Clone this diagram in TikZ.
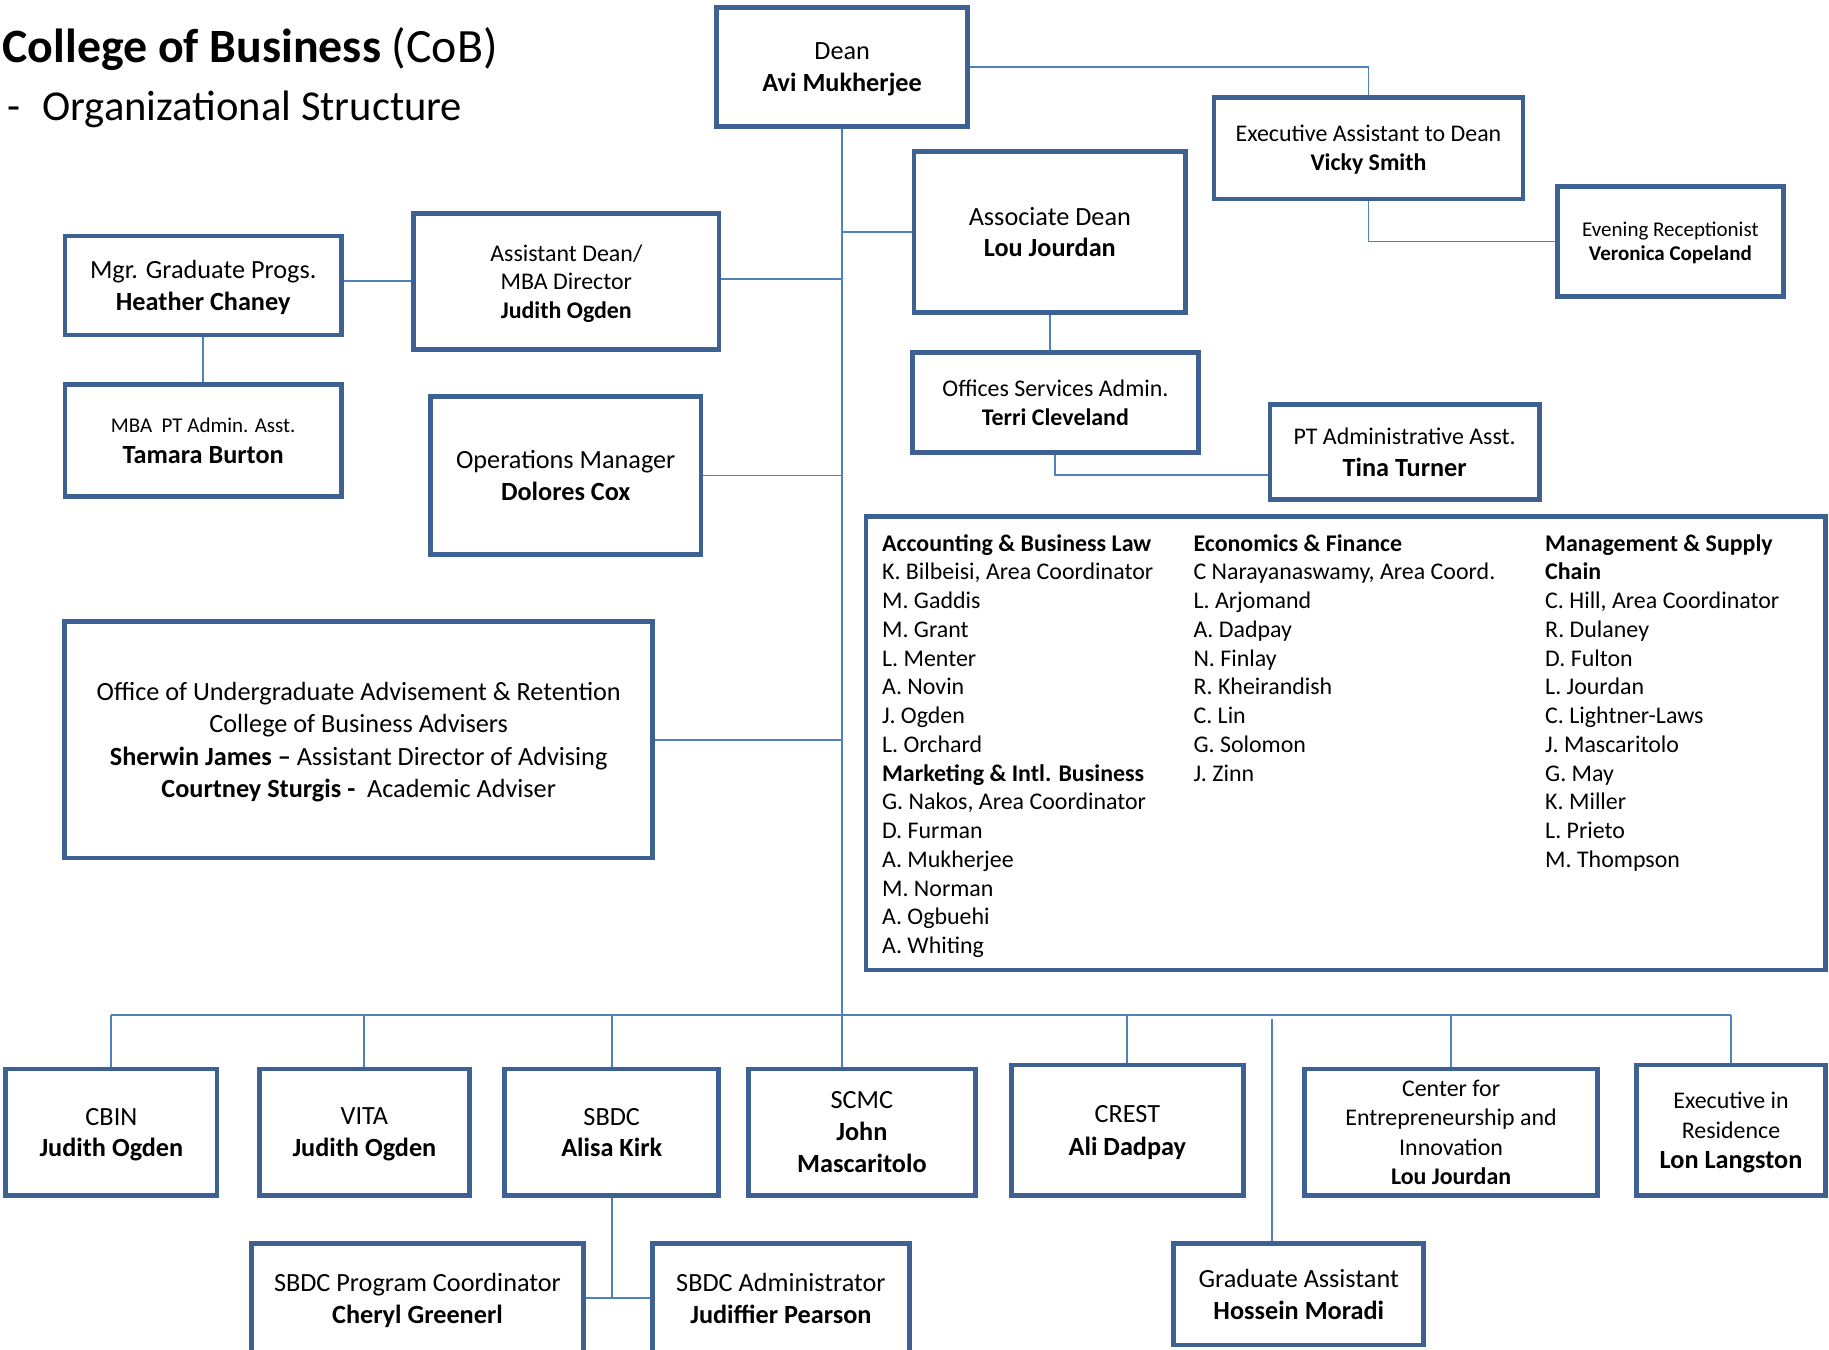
\documentclass[tikz,border=0pt]{standalone}
\usepackage{fontspec}
\setmainfont{Carlito}
\usetikzlibrary{backgrounds}
\definecolor{bordercol}{RGB}{60,97,146}
\definecolor{linkcol}{RGB}{79,129,189}
\newcommand\myfs[2]{\fontsize{#1}{#2}\selectfont}
\begin{document}
\begin{tikzpicture}[x=1pt,y=-1pt,
  box/.style={draw=bordercol, line width=4pt, fill=white, align=center, inner sep=0pt, text depth=0pt, font=\myfs{22.5}{27.5}},
  link/.style={draw=linkcol, line width=1.6pt},
  coltext/.style={anchor=base west, inner sep=0pt, font=\myfs{20.5}{24.64}}]
\useasboundingbox (0,0) rectangle (1568,1157);

% title
\node[anchor=base west, inner sep=0pt, font=\myfs{41}{48}] (title) at (2,54) {\textbf{College of Business} (CoB)};
\node[anchor=base west, inner sep=0pt, font=\myfs{36.5}{43}] (subtitle) at (6,103) {-\hspace{19pt}Organizational Structure};

% top part
\node[box, font=\myfs{22.5}{28}, minimum width=215pt, minimum height=102pt] (dean) at (722,57.5) {Dean\\\textbf{Avi Mukherjee}};
\node[box, font=\myfs{20.5}{25}, minimum width=265pt, minimum height=87pt] (exec) at (1173.2,127) {Executive Assistant to Dean\\\textbf{Vicky Smith}};
\node[box, font=\myfs{18}{21}, minimum width=194pt, minimum height=94pt] (even) at (1432,207) {Evening Receptionist\\\textbf{Veronica Copeland}};
\node[box, font=\myfs{22.5}{27}, minimum width=233pt, minimum height=138pt] (assoc) at (900,199) {Associate Dean\\\textbf{Lou Jourdan}};
\node[box, font=\myfs{20.5}{25}, minimum width=245pt, minimum height=86pt] (offices) at (904.8,345.2) {Offices Services Admin.\\\textbf{Terri Cleveland}};
\node[box, font=\myfs{22.5}{27}, minimum width=231pt, minimum height=81pt] (pt) at (1204.2,387.5) {{\myfs{20.5}{25}PT Administrative Asst.}\\\textbf{Tina Turner}};
\node[box, font=\myfs{22.5}{28}, minimum width=237pt, minimum height=85pt] (mgr) at (174.2,244.8) {Mgr. Graduate Progs.\\\textbf{Heather Chaney}};
\node[box, font=\myfs{20.5}{24.5}, minimum width=262pt, minimum height=116.5pt] (asstdean) at (485.5,241.2) {Assistant Dean/\\MBA Director\\\textbf{Judith Ogden}};
\node[box, font=\myfs{22.5}{26}, minimum width=237pt, minimum height=96pt] (mbapt) at (174.2,377.9) {{\myfs{18}{22}MBA\ \ PT Admin. Asst.}\\\textbf{Tamara Burton}};
\node[box, font=\myfs{22.5}{27}, minimum width=232pt, minimum height=135pt] (ops) at (485,407.6) {Operations Manager\\\textbf{Dolores Cox}};
\node[box, font=\myfs{22.5}{27.7}, minimum width=504pt, minimum height=202.6pt] (office) at (307.5,634.3) {Office of Undergraduate Advisement \& Retention\\College of Business Advisers\\\textbf{Sherwin James –} Assistant Director of Advising\\\textbf{Courtney Sturgis -}\ \ Academic Adviser};

% departments
\node[box, minimum width=822.5pt, minimum height=388.6pt] (dept) at (1153.8,637.3) {};
\node[coltext] (colA) at (756,472.5) {\begin{tabular}[t]{@{}l@{}}
\textbf{Accounting \& Business Law}\\
K. Bilbeisi, Area Coordinator\\
M. Gaddis\\
M. Grant\\
L. Menter\\
A. Novin\\
J. Ogden\\
L. Orchard\\
\textbf{Marketing \& Intl. Business}\\
G. Nakos, Area Coordinator\\
D. Furman\\
A. Mukherjee\\
M. Norman\\
A. Ogbuehi\\
A. Whiting
\end{tabular}};
\node[coltext] (colB) at (1023,472.5) {\begin{tabular}[t]{@{}l@{}}
\textbf{Economics \& Finance}\\
C Narayanaswamy, Area Coord.\\
L. Arjomand\\
A. Dadpay\\
N. Finlay\\
R. Kheirandish\\
C. Lin\\
G. Solomon\\
J. Zinn
\end{tabular}};
\node[coltext] (colC) at (1324.5,472.5) {\begin{tabular}[t]{@{}l@{}}
\textbf{Management \& Supply}\\
\textbf{Chain}\\
C. Hill, Area Coordinator\\
R. Dulaney\\
D. Fulton\\
L. Jourdan\\
C. Lightner-Laws\\
J. Mascaritolo\\
G. May\\
K. Miller\\
L. Prieto\\
M. Thompson
\end{tabular}};

% bottom row
\node[box, font=\myfs{22.5}{27}, minimum width=181pt, minimum height=108.5pt] (cbin) at (95.5,970.7) {CBIN\\\textbf{Judith Ogden}};
\node[box, font=\myfs{22.5}{27}, minimum width=180pt, minimum height=108.5pt] (vita) at (312.4,970.7) {VITA\\\textbf{Judith Ogden}};
\node[box, font=\myfs{22.5}{27}, minimum width=183.6pt, minimum height=108.5pt] (sbdc) at (524.4,970.7) {SBDC\\\textbf{Alisa Kirk}};
\node[box, font=\myfs{22.5}{27.5}, minimum width=195pt, minimum height=108.5pt] (scmc) at (738.9,970.7) {SCMC\\\textbf{John}\\\textbf{Mascaritolo}};
\node[box, font=\myfs{22.5}{28}, minimum width=199pt, minimum height=112pt] (crest) at (966.5,969) {CREST\\\textbf{Ali Dadpay}};
\node[box, font=\myfs{20.5}{25}, minimum width=251pt, minimum height=108.5pt] (cei) at (1244,970.7) {Center for\\Entrepreneurship and\\Innovation\\\textbf{Lou Jourdan}};
\node[box, font=\myfs{20.5}{25.5}, minimum width=162pt, minimum height=112pt] (execres) at (1484,969) {Executive in\\Residence\\{\myfs{22.5}{25.5}\textbf{Lon Langston}}};

\node[box, font=\myfs{22.5}{28}, minimum width=285pt, minimum height=94pt] (pc) at (357.9,1113) {SBDC Program Coordinator\\\textbf{Cheryl Greenerl}};
\node[box, font=\myfs{22.5}{28}, minimum width=220pt, minimum height=94pt] (adm) at (669.5,1113) {SBDC Administrator\\\textbf{Judiffier Pearson}};
\node[box, font=\myfs{22.5}{27}, minimum width=214.4pt, minimum height=87pt] (ga) at (1113.4,1109.5) {Graduate Assistant\\\textbf{Hossein Moradi}};

\coordinate (busy) at (0,870);
\coordinate (gatop) at (1090.5,874);

\begin{scope}[on background layer]
\draw[link] (dean.east) -| (exec.north);
\draw[link] (exec.south) |- (even.west);
\draw[link] (dean.south) -- (dean.south |- scmc.north);
\draw[link] (cbin.north |- busy) -- (execres.north |- busy);
\foreach \n in {cbin,vita,sbdc,crest,cei,execres}
  \draw[link] (\n.north) -- (\n.north |- busy);
\draw[link] (gatop) -- (gatop |- ga.north);
\draw[link] (sbdc.south) -- (sbdc.south |- pc.east);
\draw[link] (pc.east) -- (adm.west);
\draw[link] (assoc.west) -- (assoc.west -| dean.south);
\draw[link] (assoc.south) -- (assoc.south |- offices.north);
\draw[link] (offices.south) |- ([yshift=-19.5pt]pt.west);
\draw[link] ([yshift=2pt]asstdean.east) -- ([yshift=2pt]asstdean.east -| dean.south);
\draw[link] (mgr.east |- asstdean.west) -- (asstdean.west);
\draw[link] (mgr.south) -- (mbapt.north);
\draw[link] (ops.east) -- (ops.east -| dean.south);
\draw[link] (office.east) -- (office.east -| dean.south);
\end{scope}
\end{tikzpicture}
\end{document}
